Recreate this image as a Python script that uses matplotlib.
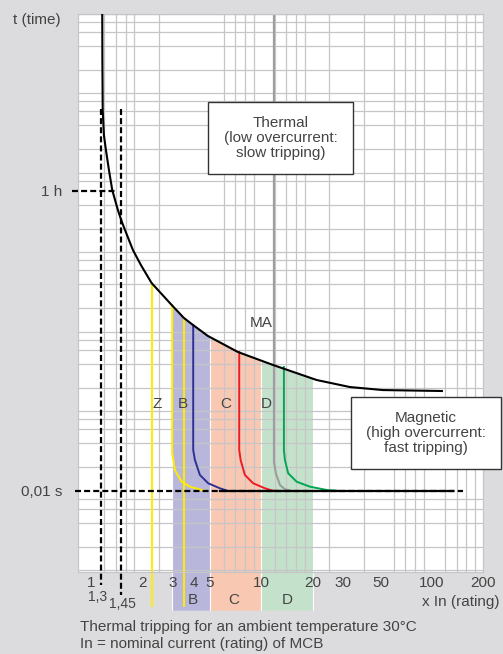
import numpy as np
import matplotlib
matplotlib.use('Agg')
import matplotlib.pyplot as plt
from matplotlib.patches import Rectangle, Polygon
from matplotlib.ticker import NullFormatter

plt.rcParams['font.family'] = ['Liberation Sans', 'DejaVu Sans']

# thermal tripping curve (multiple of In, time)
thermal_x = [1.166, 1.168, 1.173, 1.192, 1.225, 1.276, 1.334, 1.440, 1.520, 1.671, 1.764,
             1.965, 2.271, 2.976, 3.514, 3.984, 4.860, 7.290, 11.70, 21.11, 33.11, 51.71, 114.8]
thermal_t = [1e4, 2638, 620, 300.6, 194.7, 109.1, 61.1, 34.2, 24.2, 14.4, 10.75,
             6.96, 4.13, 2.19, 1.50, 1.22, 0.891, 0.560, 0.385, 0.249, 0.203, 0.186, 0.181]

# magnetic curves
yellow_x = [3.0, 3.0, 3.112, 3.406, 3.811, 4.463, 4.73]
yellow_t = [2.19, 0.0301, 0.01837, 0.01309, 0.01133, 0.0103, 0.01]
blue_x = [3.984, 3.984, 4.077, 4.362, 4.88, 5.715, 6.394]
blue_t = [1.22, 0.0328, 0.02455, 0.0159, 0.0125, 0.01081, 0.01]
red_x = [7.42, 7.42, 7.56, 8.01, 8.96, 10.50, 11.54, 12.86]
red_t = [0.560, 0.0328, 0.02455, 0.0159, 0.0125, 0.01081, 0.01015, 0.01]
ma_x = [11.86, 11.86, 12.18, 12.86, 13.76, 15.12]
ma_t = [1e4, 0.02316, 0.0167, 0.0119, 0.0105, 0.01]
green_x = [13.57, 13.57, 13.76, 14.38, 16.12, 19.28, 24.17, 28.93]
green_t = [0.363, 0.0328, 0.02455, 0.0167, 0.01309, 0.01133, 0.0103, 0.01]

# straight yellow limits (Z)
zline_x = [2.289, 3.514]
zline_top = [4.13, 1.50]
zline_bottom = 3.58e-4

# bands B, C, D
band_names = ['B', 'C', 'D']
band_lo = [3, 5, 10]
band_hi = [5, 10, 20]
band_colors = ['#b8b6da', '#f9c8b3', '#c4e2cb']
band_bottom = 3.12e-4

# 1,3 and 1,45 In conventional currents
conv_x = [1.145, 1.50]
conv_labels = ['1,3', '1,45']
conv_top = 638
conv_bottom = [6.57e-4, 4.92e-4]

t_1h = 60
t_inst = 0.01

xticks = [1, 2, 3, 4, 5, 10, 20, 30, 50, 100, 200]
yticks = [0.01, 60]
ylabels = ['0,01 s', '1 h']

W, H = 503, 654
def fx(px):
    return px / W
def fy(py):
    return 1 - py / H

txt = '#444444'
grid_c = '#c6c6c8'

fig = plt.figure(figsize=(W / 100, H / 100), dpi=100, facecolor='#dcdcde')
ax = fig.add_axes([fx(78), fy(572), (483 - 78) / W, (572 - 14) / H])
ax.set_facecolor('white')
ax.set_xscale('log')
ax.set_yscale('log')
ax.set_xlim(0.84, 200)
ax.set_ylim(9.57e-4, 1e4)

# grid
gx = []
for d in [1, 10, 100]:
    for s in [1, 1.2, 1.4, 1.6, 1.8, 2, 2.5, 3, 4, 5, 6, 7, 8, 9]:
        if s * d <= 200:
            gx.append(s * d)
gx.append(200)
gy = []
for e in range(-3, 5):
    for s in [1, 2, 4, 6, 8]:
        v = s * 10.0 ** e
        if 9.57e-4 <= v <= 1e4:
            gy.append(v)
ax.set_xticks(gx, minor=True)
ax.set_yticks(gy, minor=True)
ax.xaxis.set_minor_formatter(NullFormatter())
ax.yaxis.set_minor_formatter(NullFormatter())
ax.grid(True, which='minor', color=grid_c, lw=0.9)
ax.set_xticks(xticks, [str(v) for v in xticks])
ax.set_yticks(yticks, ylabels)
ax.tick_params(which='both', length=0, labelsize=11, labelcolor=txt)
ax.tick_params(axis='x', pad=3)
ax.tick_params(axis='y', pad=11.5)
for sp in ax.spines.values():
    sp.set_color(grid_c)
    sp.set_linewidth(0.9)

# bands under thermal curve
clip = Polygon(list(zip(thermal_x, thermal_t)) + [(thermal_x[-1], band_bottom), (thermal_x[0], band_bottom)],
               closed=True, transform=ax.transData)
for lo, hi, c in zip(band_lo, band_hi, band_colors):
    r = Rectangle((lo, band_bottom), hi - lo, 1e4 - band_bottom, fc=c, ec='white', lw=0.8, zorder=1)
    r.set_clip_path(clip)
    ax.add_patch(r)

# dashed reference lines
dash = dict(color='black', lw=1.6, dashes=(2.7, 1.4), clip_on=False, zorder=3)
for x, b in zip(conv_x, conv_bottom):
    ax.plot([x, x], [conv_top, b], **dash)
ax.plot([0.775, 1.383], [t_1h, t_1h], **dash)
ax.plot([0.805, 152], [t_inst, t_inst], **dash)
ax.plot([5.7, 133], [t_inst, t_inst], color='black', lw=1.6, zorder=3)

# curves
ax.plot(thermal_x, thermal_t, color='black', lw=1.5, zorder=4)
for x, top in zip(zline_x, zline_top):
    ax.plot([x, x], [top, zline_bottom], color='#ffec00', lw=1.4, clip_on=False, zorder=2)
ax.plot(yellow_x, yellow_t, color='#ffec00', lw=1.4, zorder=2)
ax.plot(blue_x, blue_t, color='#2e3192', lw=1.4, zorder=2)
ax.plot(red_x, red_t, color='#ed1c24', lw=1.4, zorder=2)
ax.plot(ma_x, ma_t, color='#9d9d9d', lw=1.5, zorder=2)
ax.plot(green_x, green_t, color='#00a651', lw=1.4, zorder=2)

# labels in chart
for s, px, py in [('Z', 157, 404), ('B', 183, 404), ('C', 226, 404), ('D', 266, 404), ('MA', 261, 323)]:
    fig.text(fx(px), fy(py), s, ha='center', va='center', fontsize=11, color=txt)
for s, px in zip(band_names, [193, 234, 287]):
    fig.text(fx(px), fy(600), s, ha='center', va='center', fontsize=11, color=txt)
for s, px, py in zip(conv_labels, [98, 122], [597, 604]):
    fig.text(fx(px), fy(py), s, ha='center', va='center', fontsize=10, color=txt)

# boxes
for x0, y0, x1, y1, s in [(208, 102, 353, 174, 'Thermal\n(low overcurrent:\nslow tripping)'),
                          (351, 397, 501, 469, 'Magnetic\n(high overcurrent:\nfast tripping)')]:
    fig.add_artist(Rectangle((fx(x0), fy(y1)), (x1 - x0) / W, (y1 - y0) / H, transform=fig.transFigure,
                             fc='white', ec='#333333', lw=1, zorder=5))
    fig.text(fx((x0 + x1) / 2), fy((y0 + y1) / 2), s, ha='center', va='center', fontsize=11,
             color=txt, linespacing=1.05, zorder=6)

fig.text(fx(13), fy(20), 't (time)', ha='left', va='center', fontsize=11, color=txt)
fig.text(fx(500), fy(602), 'x In (rating)', ha='right', va='center', fontsize=11, color=txt)
fig.text(fx(80), fy(627), 'Thermal tripping for an ambient temperature 30°C', ha='left', va='center',
         fontsize=11, color=txt)
fig.text(fx(80), fy(644), 'In = nominal current (rating) of MCB', ha='left', va='center',
         fontsize=11, color=txt)

fig.savefig('out.png', dpi=100, facecolor=fig.get_facecolor())
